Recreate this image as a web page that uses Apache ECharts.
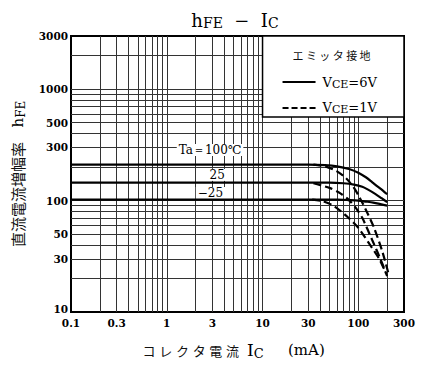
<!DOCTYPE html>
<html><head><meta charset="utf-8">
<script src="https://cdn.jsdelivr.net/npm/echarts@6/dist/echarts.min.js"></script>
<style>html,body{margin:0;padding:0;background:#fff}#c{width:423px;height:366px}</style>
</head><body><div id="c"></div>
<script>
// ---- data ----
const xTickLabels = [0.1, 0.3, 1, 3, 10, 30, 100, 300];
const yTickLabels = [10, 30, 50, 100, 300, 500, 1000, 3000];
const xGridLines = [0.2,0.3,0.4,0.5,0.6,0.7,0.8,0.9,1,2,3,4,5,6,7,8,9,10,20,30,40,50,60,70,80,90,100,200];
const yGridLines = [20,30,40,50,60,70,80,90,100,200,300,400,500,600,700,800,900,1000,2000];

// VCE = 6V (solid)
const vce6_Ta100 = [[0.1,210],[30,210],[45,208],[60,203],[80,192],[100,178],[120,162],[140,146],[170,128],[200,114]];
const vce6_Ta25  = [[0.1,145],[50,145],[70,143],[90,139],[110,133],[125,126],[150,115],[175,105],[200,97]];
const vce6_Tam25 = [[0.1,102],[60,102],[80,101],[100,100],[120,98],[143,96],[170,93],[200,90]];
// VCE = 1V (dashed)
const vce1_Ta100 = [[34,210],[45,203],[60,183],[75,158],[88,134],[100,112],[118,85],[146,57],[178,35],[210,21]];
const vce1_Ta25  = [[34,143],[50,130],[65,116],[80,101],[95,85],[110,70],[140,44],[170,30],[200,21]];
const vce1_Tam25 = [[33,102],[42,99],[55,90],[75,73],[100,57],[130,41],[165,30],[196,22]];

const serif = '"DejaVu Serif","Liberation Serif",serif';
const cjk = '"Noto Sans CJK JP","Noto Sans CJK SC",sans-serif';

const chart = echarts.init(document.getElementById('c'), null, {renderer:'svg', width:423, height:366});

function curve(name, data, dashed){
  return {name, type:'line', data, symbol:'none', smooth:0.25, z:3, silent:true,
    lineStyle:{color:'#000', width:2.2, type: dashed ? [8,4] : 'solid'}};
}

const gridSeries = {
  type:'line', data:[], z:1, silent:true,
  markLine:{z:1, silent:true, symbol:['none','none'], label:{show:false}, animation:false,
    lineStyle:{color:'#333', width:1, type:'solid'},
    data:[...xGridLines.map(v=>({xAxis:v})), ...yGridLines.map(v=>({yAxis:v}))]}
};

chart.setOption({
  animation:false,
  grid:{left:71, right:19, top:36, bottom:54, show:true, borderColor:'#000', borderWidth:2},
  xAxis:{type:'log', logBase:10, min:0.1, max:300, axisLine:{show:false}, axisTick:{show:false}, axisLabel:{show:false}, splitLine:{show:false}},
  yAxis:{type:'log', logBase:10, min:10, max:3000, axisLine:{show:false}, axisTick:{show:false}, axisLabel:{show:false}, splitLine:{show:false}},
  series:[
    gridSeries,
    curve('VCE=6V Ta=100', vce6_Ta100, false),
    curve('VCE=6V Ta=25', vce6_Ta25, false),
    curve('VCE=6V Ta=-25', vce6_Tam25, false),
    curve('VCE=1V Ta=100', vce1_Ta100, true),
    curve('VCE=1V Ta=25', vce1_Ta25, true),
    curve('VCE=1V Ta=-25', vce1_Tam25, true)
  ]
});

const P = (x,y)=>chart.convertToPixel({gridIndex:0},[x,y]);
const g = [];
const numFont = 'bold 10.5px ' + serif;

xTickLabels.forEach(v=>{
  const p = P(v, 10);
  g.push({type:'text', z:10, x:p[0], y:p[1]+11, style:{text:String(v), font:numFont, fill:'#000', align:'center', verticalAlign:'middle'}});
});
yTickLabels.forEach(v=>{
  const p = P(0.1, v);
  g.push({type:'text', z:10, x:p[0]-3, y:p[1] + (v===10?-3:0), style:{text:String(v), font:numFont, fill:'#000', align:'right', verticalAlign:'middle'}});
});

// spaced text helper (char-by-char, horizontal)
function spaced(str, cx, cy, step, font, z){
  const chars = Array.from(str), n = chars.length;
  chars.forEach((ch,i)=>{
    g.push({type:'text', z:z||10, x:cx + (i-(n-1)/2)*step, y:cy, style:{text:ch, font, fill:'#111', align:'center', verticalAlign:'middle'}});
  });
}

// title
g.push({type:'text', z:10, x:235, y:20, style:{
  text:'{m|h}{s|FE}{m|  −  I}{s|C}', align:'center', verticalAlign:'middle', fill:'#000',
  rich:{m:{font:'18px '+serif, lineHeight:22, fill:'#000'}, s:{font:'14px '+serif, lineHeight:14, padding:[6,0,0,0], fill:'#000'}}
}});

// y-axis title (rotated CCW)
g.push({type:'text', z:10, x:17, y:194.5, rotation:Math.PI/2, style:{
  text:'直流電流増幅率', font:'15px '+cjk, fill:'#111', align:'center', verticalAlign:'middle'}});
g.push({type:'text', z:10, x:18, y:114, rotation:Math.PI/2, style:{
  text:'{m|h}{s|FE}', align:'center', verticalAlign:'middle',
  rich:{m:{font:'15px '+serif, lineHeight:18, fill:'#000'}, s:{font:'12px '+serif, lineHeight:12, padding:[5,0,0,0], fill:'#000'}}}});

// x-axis title
spaced('コレクタ電流', 190.8, 350, 16.7, '13px '+cjk);
g.push({type:'text', z:10, x:247, y:350, style:{text:'{m|I}{s|C}', align:'left', verticalAlign:'middle',
  rich:{m:{font:'17px '+serif, lineHeight:20, fill:'#000'}, s:{font:'13px '+serif, lineHeight:13, padding:[6,0,0,0], fill:'#000'}}}});
g.push({type:'text', z:10, x:288, y:350, style:{text:'(mA)', font:'15px '+serif, fill:'#000', align:'left', verticalAlign:'middle'}});

// curve annotations
function note(txt, x, y){
  const p = P(x,y);
  g.push({type:'text', z:2, x:p[0], y:p[1], style:{text:txt, font:'12px '+serif, fill:'#000', align:'center', verticalAlign:'middle', backgroundColor:'#fff', padding:[0,2]}});
}
note('Ta＝100℃', 2.83, 284);
note('25', 3.36, 170);
note('−25', 2.86, 117);

// legend box
const tl = P(10, 3000), tr = P(300, 3000);
const bx = tl[0], by = tl[1], bw = tr[0]-tl[0], bh = 81;
g.push({type:'rect', z:4, shape:{x:bx, y:by, width:bw, height:bh}, style:{fill:'#fff', stroke:'#000', lineWidth:1.5}});
spaced('エミッタ接地', bx+69, by+19, 13.4, '11px '+cjk);
g.push({type:'line', z:10, shape:{x1:bx+20, y1:by+46, x2:bx+53, y2:by+46}, style:{stroke:'#000', lineWidth:2.2}});
g.push({type:'line', z:10, shape:{x1:bx+20, y1:by+72, x2:bx+53, y2:by+72}, style:{stroke:'#000', lineWidth:2.2, lineDash:[6,3]}});
const vRich = {m:{font:'13px '+serif, lineHeight:16, fill:'#000'}, s:{font:'11px '+serif, lineHeight:11, padding:[5,0,0,0], fill:'#000'}};
g.push({type:'text', z:10, x:bx+60, y:by+46, style:{text:'{m|V}{s|CE}{m|=6V}', align:'left', verticalAlign:'middle', rich:vRich}});
g.push({type:'text', z:10, x:bx+60, y:by+71, style:{text:'{m|V}{s|CE}{m|=1V}', align:'left', verticalAlign:'middle', rich:vRich}});

chart.setOption({graphic:g});
</script>
</body></html>
